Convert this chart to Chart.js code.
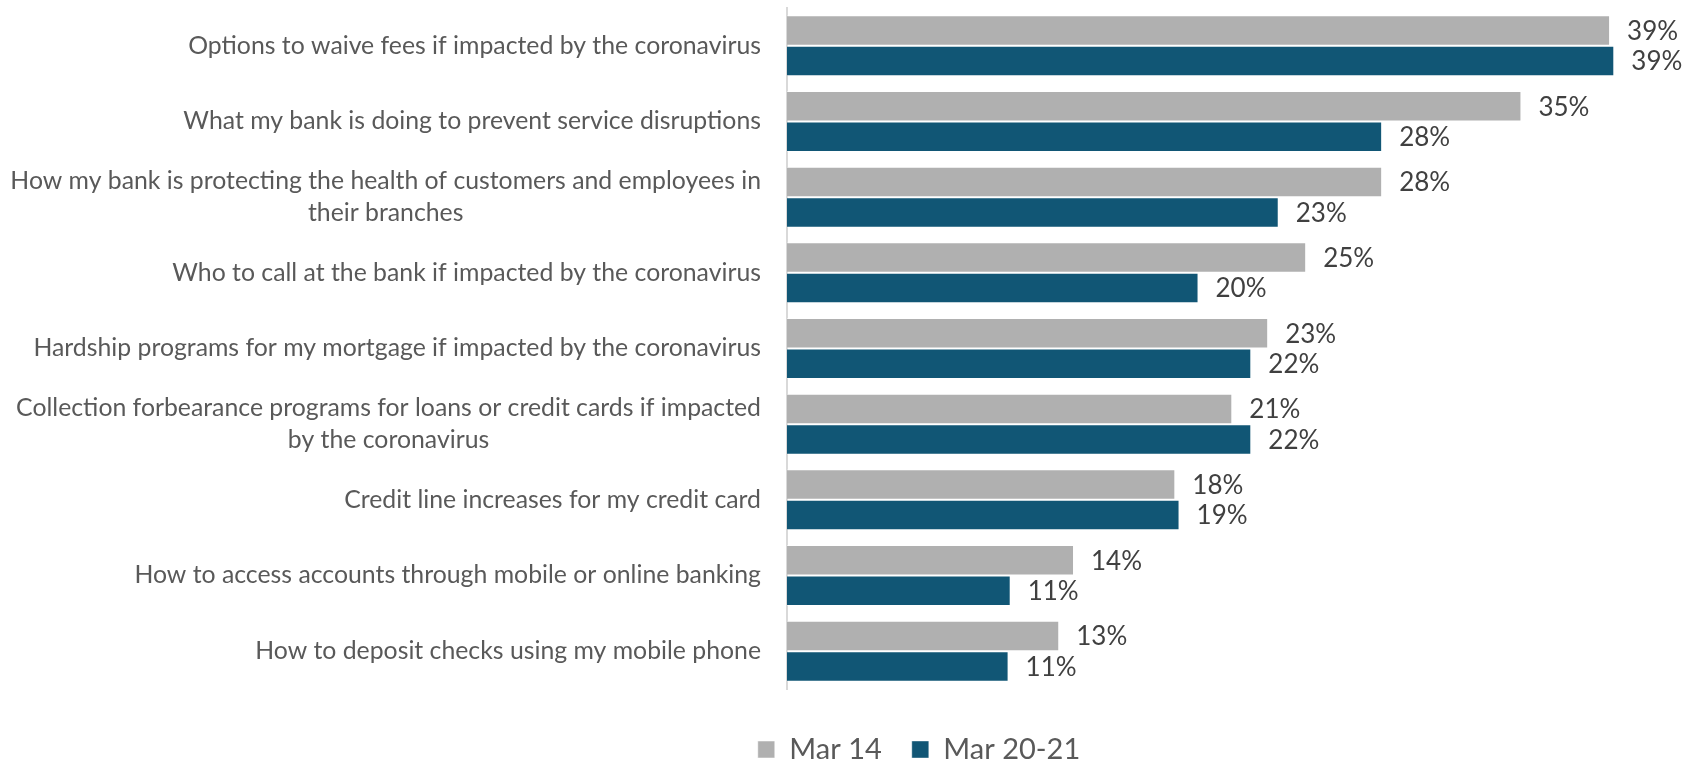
<!DOCTYPE html>
<html>
<head>
<meta charset="utf-8">
<script src="https://cdn.jsdelivr.net/npm/chart.js@4/dist/chart.umd.min.js"></script>
<style>
  html,body{margin:0;padding:0;background:#fff;}
  #wrap{width:1685px;height:764px;position:relative;}
</style>
</head>
<body>
<div id="wrap"><canvas id="c"></canvas></div>
<script>
(function(){
  // ----- data -----
  const categories = [
    ["Options to waive fees if impacted by the coronavirus"],
    ["What my bank is doing to prevent service disruptions"],
    ["How my bank is protecting the health of customers and employees in", "their branches"],
    ["Who to call at the bank if impacted by the coronavirus"],
    ["Hardship programs for my mortgage if impacted by the coronavirus"],
    ["Collection forbearance programs for loans or credit cards if impacted", "by the coronavirus"],
    ["Credit line increases for my credit card"],
    ["How to access accounts through mobile or online banking"],
    ["How to deposit checks using my mobile phone"]
  ];
  const seriesNames = ["Mar 14", "Mar 20-21"];
  const mar14   = [39.0, 34.8, 28.2, 24.6, 22.8, 21.1, 18.4, 13.6, 12.9];
  const mar2021 = [39.2, 28.2, 23.3, 19.5, 22.0, 22.0, 18.6, 10.6, 10.5];

  const FONT = "Lato, 'Open Sans', sans-serif";
  const GREY = "#b0b0b0", BLUE = "#115675";

  // category labels: right-aligned block, each line centred inside it
  const catLabels = {
    id: "catLabels",
    afterDraw(chart){
      const {ctx, scales:{y}, chartArea} = chart;
      ctx.save();
      ctx.font = "24.8px " + FONT;
      ctx.fillStyle = "#595959";
      ctx.textAlign = "center";
      ctx.textBaseline = "middle";
      const lh = 32;
      categories.forEach((lines, i)=>{
        const cy = y.getPixelForValue(i);
        const w = Math.max(...lines.map(l=>ctx.measureText(l).width));
        const cx = chartArea.left - 26 - w/2;
        const y0 = cy - (lines.length-1)*lh/2;
        lines.forEach((l, k)=> ctx.fillText(l, cx, y0 + k*lh));
      });
      ctx.restore();
    }
  };

  // value labels at bar ends
  const valueLabels = {
    id: "valueLabels",
    afterDatasetsDraw(chart){
      const {ctx} = chart;
      ctx.save();
      ctx.font = "26px " + FONT;
      ctx.fillStyle = "#404040";
      ctx.textAlign = "left";
      ctx.textBaseline = "middle";
      chart.data.datasets.forEach((ds, di)=>{
        chart.getDatasetMeta(di).data.forEach((bar, i)=>{
          ctx.fillText(Math.round(ds.data[i]) + "%", bar.x + 17, bar.y + 1);
        });
      });
      ctx.restore();
    }
  };

  new Chart(document.getElementById("c"), {
    type: "bar",
    data: {
      labels: categories.map(l=>l.join(" ")),
      datasets: [
        { label: seriesNames[0], data: mar14, backgroundColor: GREY, borderColor: "rgba(255,255,255,0.5)", borderWidth: 1 },
        { label: seriesNames[1], data: mar2021, backgroundColor: BLUE, borderColor: "rgba(255,255,255,0.4)", borderWidth: 1 }
      ]
    },
    options: {
      indexAxis: "y",
      responsive: true,
      maintainAspectRatio: false,
      animation: false,
      devicePixelRatio: 1,
      layout: { padding: { left: 153, right: 0, top: 8, bottom: -10 } },
      datasets: { bar: { categoryPercentage: 0.806, barPercentage: 1 } },
      scales: {
        x: {
          min: 0, max: 42.55,
          grid: { display: false },
          border: { display: false },
          ticks: { display: false },
          afterFit: (s)=>{ s.height = 16; }
        },
        y: {
          grid: { display: false },
          border: { display: true, color: "#d9d9d9", width: 2 },
          ticks: { display: false },
          afterFit: (s)=>{ s.width = 634; }
        }
      },
      plugins: {
        legend: {
          position: "bottom",
          labels: {
            font: { family: FONT, size: 29 },
            color: "#595959",
            boxWidth: 17, boxHeight: 17,
            padding: 30
          }
        },
        tooltip: { enabled: false }
      }
    },
    plugins: [catLabels, valueLabels]
  });
})();
</script>
</body>
</html>
